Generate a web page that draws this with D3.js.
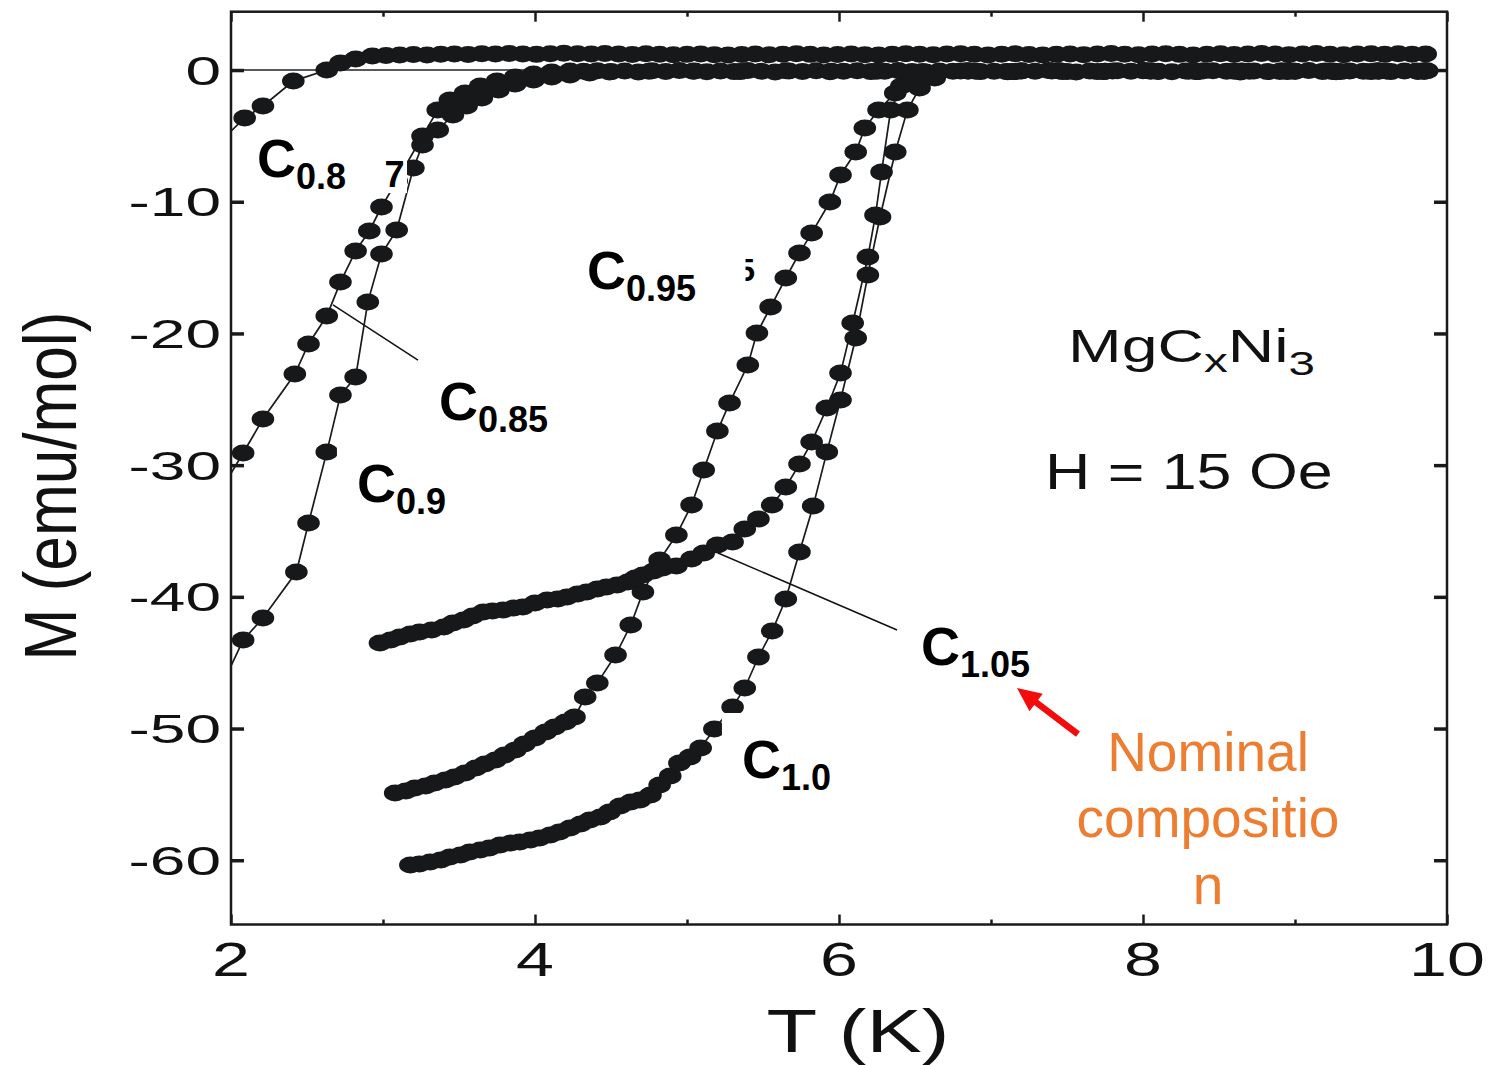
<!DOCTYPE html>
<html><head><meta charset="utf-8">
<script src="https://cdn.jsdelivr.net/npm/d3@7"></script>
<style>body{margin:0;background:#fff}svg{display:block}</style>
</head><body>
<svg id="chart" width="1488" height="1065"></svg>
<script>
// ---------------- DATA (T in K, M in emu/mol) ----------------
const T_C080 = [1.95,2.09,2.21,2.41,2.63,2.72,2.82,2.93,
 3.02,3.11,3.20,3.29,3.38,3.47,3.56,3.65,3.74,3.83,
 3.92,4.01,4.10,4.19,4.28,4.37,4.46,4.55,4.64,4.73,
 4.82,4.91,5.00,5.09,5.18,5.27,5.36,5.45,5.54,5.63,
 5.72,5.81,5.90,5.99,6.08,6.17,6.26,6.35,6.44,6.53,
 6.62,6.71,6.80,6.89,6.98,7.07,7.16,7.25,7.34,7.43,
 7.52,7.61,7.70,7.79,7.88,7.97,8.06,8.15,8.24,8.33,
 8.42,8.51,8.60,8.69,8.78,8.87,8.96,9.05,9.14,9.23,
 9.32,9.41,9.50,9.59,9.68,9.77,9.86];
const M_C080 = [-5.2,-3.64,-2.73,-0.84,0.0,0.53,0.84,1.06,
 1.10,1.14,1.18,1.15,1.20,1.22,1.18,1.24,1.21,1.25,
 1.22,1.19,1.24,1.27,1.23,1.21,1.26,1.22,1.18,1.23,
 1.20,1.16,1.19,1.22,1.17,1.14,1.18,1.21,1.16,1.20,
 1.23,1.19,1.15,1.18,1.22,1.17,1.14,1.19,1.23,1.20,
 1.16,1.21,1.24,1.19,1.15,1.20,1.23,1.18,1.14,1.19,
 1.22,1.17,1.21,1.25,1.20,1.16,1.21,1.24,1.19,1.15,
 1.20,1.23,1.18,1.22,1.26,1.21,1.17,1.22,1.25,1.20,
 1.16,1.21,1.24,1.19,1.23,1.20,1.22];

const T_C085 = [1.97,2.08,2.21,2.42,2.51,2.63,2.72,2.82,2.91,2.99,
 3.09,3.26,3.36,3.44,3.54,3.64,3.75,3.87,3.99,4.11,4.23,
 4.32,4.41,4.50,4.59,4.68,4.77,4.86,4.95,5.04,5.13,
 5.22,5.31,5.40,5.49,5.58,5.67,5.76,5.85,5.94,6.03,
 6.12,6.21,6.30,6.39,6.48,6.57,6.66,6.75,6.84,6.93,
 7.02,7.11,7.20,7.29,7.38,7.47,7.56,7.65,7.74,7.83,
 7.92,8.01,8.10,8.19,8.28,8.37,8.46,8.55,8.64,8.73,
 8.82,8.91,9.00,9.09,9.18,9.27,9.36,9.45,9.54,9.63,
 9.72,9.81,9.87];
const M_C085 = [-31.2,-29.08,-26.50,-23.08,-20.80,-18.68,-16.10,-13.74,-12.22,-10.40,
 -8.43,-5.01,-3.04,-2.28,-1.75,-1.21,-0.84,-0.53,-0.30,-0.15,-0.08,
 -0.10,-0.05,-0.12,-0.08,-0.14,-0.06,-0.11,-0.03,-0.09,-0.13,
 -0.07,-0.12,-0.04,-0.10,-0.15,-0.08,-0.11,-0.05,-0.13,-0.09,
 -0.06,-0.12,-0.10,-0.04,-0.11,-0.14,-0.07,-0.10,-0.05,-0.12,
 -0.09,-0.13,-0.06,-0.10,-0.04,-0.11,-0.15,-0.08,-0.12,-0.06,
 -0.10,-0.03,-0.09,-0.13,-0.07,-0.11,-0.05,-0.10,-0.14,-0.08,
 -0.12,-0.06,-0.09,-0.04,-0.11,-0.13,-0.07,-0.10,-0.05,-0.12,
 -0.08,-0.11,-0.06];

const T_C090 = [1.97,2.08,2.21,2.43,2.51,2.63,2.72,2.82,2.90,2.99,
 3.09,3.20,3.26,3.36,3.46,3.55,3.65,3.76,3.87,3.99,
 4.11,4.23,4.36,4.49,
 4.75,5.05,5.35,5.65,5.95,6.25,6.55,6.85,7.15,7.45,
 7.75,8.05,8.35,8.65,8.95,9.25,9.55,9.85];
const M_C090 = [-46.0,-43.28,-41.61,-38.12,-34.40,-29.01,-24.68,-23.31,-17.62,-13.97,
 -12.15,-7.44,-5.69,-4.56,-3.42,-2.73,-2.13,-1.52,-1.06,-0.76,
 -0.53,-0.38,-0.23,-0.15,
 -0.10,-0.08,-0.12,-0.06,-0.10,-0.09,-0.11,-0.07,-0.12,-0.08,
 -0.10,-0.06,-0.11,-0.09,-0.07,-0.12,-0.08,-0.10];

const T_C095 = [3.08,3.15,3.21,3.28,3.34,3.41,3.47,3.54,3.61,3.67,
 3.74,3.80,3.87,3.93,4.00,4.07,4.13,4.20,4.26,4.33,
 4.41,4.53,4.63,4.71,4.82,4.93,5.03,5.11,5.20,5.28,
 5.40,5.46,5.55,5.65,5.74,5.82,5.94,6.01,6.11,6.17,
 6.26,6.37,6.47,6.57,
 6.85,7.15,7.45,7.75,8.05,8.35,8.65,8.95,9.25,9.55,9.85];
const M_C095 = [-54.90,-54.75,-54.52,-54.37,-54.14,-53.91,-53.68,-53.38,-52.99,-52.69,
 -52.39,-52.01,-51.63,-51.18,-50.72,-50.27,-49.89,-49.51,-49.13,-47.61,
 -46.55,-44.42,-42.14,-39.64,-37.21,-35.31,-33.03,-30.37,-27.41,-25.28,
 -22.40,-19.97,-18.00,-15.79,-13.90,-12.38,-10.02,-7.97,-6.23,-4.40,
 -3.04,-1.75,-0.91,-0.46,
 -0.08,-0.12,-0.06,-0.10,-0.09,-0.11,-0.07,-0.12,-0.08,-0.10,-0.06];

const T_C100 = [3.18,3.24,3.31,3.38,3.44,3.51,3.57,3.64,3.70,3.77,
 3.84,3.90,3.97,4.03,4.10,4.16,4.23,4.30,4.36,4.43,
 4.49,4.56,4.63,4.69,4.76,4.82,4.89,4.95,5.02,5.09,
 5.18,5.30,5.38,5.47,5.56,5.65,5.74,5.83,5.92,6.01,
 6.11,6.19,6.27,6.37,6.45,6.53,6.63,
 6.9,7.2,7.5,7.8,8.1,8.4,8.7,9.0,9.3,9.6,9.85];
const M_C100 = [-60.36,-60.29,-60.14,-59.98,-59.76,-59.61,-59.38,-59.23,-59.07,-58.85,
 -58.69,-58.62,-58.47,-58.31,-58.09,-57.86,-57.56,-57.25,-56.95,-56.72,
 -56.34,-55.88,-55.58,-55.43,-55.05,-54.29,-53.61,-52.62,-52.16,-51.48,
 -50.04,-48.37,-46.92,-44.57,-42.60,-40.17,-36.60,-33.11,-29.01,-25.06,
 -20.35,-15.57,-11.16,-6.23,-3.04,-1.37,-0.61,
 -0.10,-0.07,-0.12,-0.08,-0.11,-0.06,-0.10,-0.09,-0.12,-0.07,-0.10];

const T_C105 = [2.98,3.05,3.11,3.18,3.24,3.32,3.40,3.46,3.53,3.59,
 3.66,3.72,3.79,3.86,3.92,4.00,4.08,4.15,4.21,4.28,
 4.34,4.41,4.47,4.54,4.61,4.66,4.71,4.78,4.84,4.93,
 5.03,5.11,5.20,5.30,5.38,5.47,5.56,5.65,5.74,5.82,
 5.92,6.01,6.09,6.19,6.24,6.28,6.34,6.41,6.52,
 6.8,7.1,7.4,7.7,8.0,8.3,8.6,8.9,9.2,9.5,9.8];
const M_C105 = [-43.51,-43.28,-43.05,-42.82,-42.67,-42.52,-42.29,-41.99,-41.76,-41.46,
 -41.15,-41.08,-41.00,-40.85,-40.77,-40.47,-40.24,-40.17,-40.02,-39.79,
 -39.64,-39.41,-39.26,-39.10,-38.88,-38.57,-38.34,-38.04,-37.81,-37.66,
 -37.13,-36.67,-36.07,-35.84,-34.85,-34.09,-33.03,-31.66,-29.92,-28.25,
 -25.66,-23.01,-19.21,-14.20,-11.01,-7.74,-3.04,-1.21,-0.46,
 -0.07,-0.11,-0.08,-0.12,-0.06,-0.10,-0.09,-0.11,-0.07,-0.12,-0.08];

const seriesNames = ["C0.8","C0.85","C0.9","C0.95","C1.0","C1.05"];
const seriesSubs  = ["0.8","0.85","0.9","0.95","1.0","1.05"];
const xMajor = [2,4,6,8,10];
const xMinor = [3,5,7,9];
const xTickLabels = ["2","4","6","8","10"];
const yTicks = [0,-10,-20,-30,-40,-50,-60];
const yTickLabels = ["0","-10","-20","-30","-40","-50","-60"];
const noteLines = ["Nominal","compositio","n"];

// ---------------- LAYOUT ----------------
const FONT = "'Liberation Sans', Arial, Helvetica, sans-serif";
const INK = "#17181a";
const svg = d3.select("#chart");
svg.append("rect").attr("width",1488).attr("height",1065).attr("fill","#fff");

const x = d3.scaleLinear().domain([2,10]).range([231,1447]);
const y = d3.scaleLinear().domain([4.43,-64.88]).range([11.7,924.5]);
const [x0,x1] = x.range();
const yTop = y(4.43), yBot = y(-64.88);

svg.append("defs").append("clipPath").attr("id","plotclip").append("rect")
  .attr("x",x0).attr("y",yTop).attr("width",x1-x0).attr("height",yBot-yTop);

const plot = svg.append("g").attr("clip-path","url(#plotclip)");

// zero line
plot.append("line").attr("x1",x0).attr("x2",x1).attr("y1",y(0)).attr("y2",y(0))
  .attr("stroke","#222").attr("stroke-width",1.5);

const series = [
  {T:T_C080,M:M_C080},{T:T_C085,M:M_C085},{T:T_C090,M:M_C090},
  {T:T_C095,M:M_C095},{T:T_C100,M:M_C100},{T:T_C105,M:M_C105}
].map((s,i)=>({name:seriesNames[i], pts:s.T.map((t,j)=>[t,s.M[j]])}));

const line = d3.line().x(d=>x(d[0])).y(d=>y(d[1]));
plot.selectAll("path.series").data(series).join("path")
  .attr("class","series").attr("d",d=>line(d.pts))
  .attr("fill","none").attr("stroke","#1a1a1a").attr("stroke-width",1.7);

plot.selectAll("g.mk").data(series).join("g").attr("class","mk")
  .selectAll("ellipse").data(d=>d.pts.filter(p=>p[0]>=2)).join("ellipse")
  .attr("cx",d=>x(d[0])).attr("cy",d=>y(d[1]))
  .attr("rx",11.3).attr("ry",8.5).attr("fill",INK);

// leader lines (data coords)
const leaders = [[[2.671,-17.84],[3.230,-22.02]],[[5.204,-36.67],[6.382,-42.52]]];
svg.selectAll("line.leader").data(leaders).join("line").attr("class","leader")
  .attr("x1",d=>x(d[0][0])).attr("y1",d=>y(d[0][1]))
  .attr("x2",d=>x(d[1][0])).attr("y2",d=>y(d[1][1]))
  .attr("stroke","#111").attr("stroke-width",1.5);

// white label boxes (cover parts of curves as in original)
const boxes = [[2.993,-6.45,3.158,-9.34],[2.697,-28.09,3.474,-34.32],[5.230,-48.82,6.007,-55.43]];
svg.selectAll("rect.box").data(boxes).join("rect").attr("class","box")
  .attr("x",d=>x(d[0])).attr("y",d=>y(d[1]))
  .attr("width",d=>x(d[2])-x(d[0])).attr("height",d=>y(d[3])-y(d[1]))
  .attr("fill","#fff");

// series labels (anchor in data coords)
const labelPos = [[2.171,-8.12],[3.368,-26.58],[2.829,-32.80],[4.342,-16.63],[5.362,-53.76],[6.539,-45.18]];
labelPos.forEach((p,i)=>{
  const t = svg.append("text").attr("x",x(p[0])).attr("y",y(p[1]))
    .attr("font-family",FONT).attr("font-weight","bold").attr("fill","#000");
  t.append("tspan").attr("font-size",54).text("C");
  t.append("tspan").attr("font-size",36).attr("dy",12).text(seriesSubs[i]);
});
// fragments of hidden labels
svg.append("text").attr("x",x(3.010)).attr("y",y(-8.88)).attr("font-family",FONT)
  .attr("font-weight","bold").attr("font-size",36).attr("fill","#000").text("7");
const frag = svg.append("g");
frag.append("text").attr("x",x(5.33)).attr("y",y(-16.02)).attr("font-family",FONT)
  .attr("font-weight","bold").attr("font-size",32).attr("fill","#000").text("5");
frag.append("rect").attr("x",x(5.20)).attr("y",y(-13.5)).attr("width",x(5.385)-x(5.20))
  .attr("height",y(-16.5)-y(-13.5)).attr("fill","#fff");

// ---------------- AXES ----------------
function styleAxis(g, w){
  g.select(".domain").remove();
  g.selectAll(".tick line").attr("stroke","#1a1a1a").attr("stroke-width",w);
  g.selectAll(".tick text").remove();
}
svg.append("g").attr("transform",`translate(0,${yBot})`)
  .call(d3.axisBottom(x).tickValues(xMajor).tickSize(-10).tickSizeOuter(0)).call(g=>styleAxis(g,2.5));
svg.append("g").attr("transform",`translate(0,${yBot})`)
  .call(d3.axisBottom(x).tickValues(xMinor).tickSize(-5).tickSizeOuter(0)).call(g=>styleAxis(g,2.5));
svg.append("g").attr("transform",`translate(0,${yTop})`)
  .call(d3.axisTop(x).tickValues(xMajor).tickSize(-10).tickSizeOuter(0)).call(g=>styleAxis(g,2.5));
svg.append("g").attr("transform",`translate(0,${yTop})`)
  .call(d3.axisTop(x).tickValues(xMinor).tickSize(-5).tickSizeOuter(0)).call(g=>styleAxis(g,2.5));
svg.append("g").attr("transform",`translate(${x0},0)`)
  .call(d3.axisLeft(y).tickValues(yTicks).tickSize(-13).tickSizeOuter(0)).call(g=>styleAxis(g,3.5));
svg.append("g").attr("transform",`translate(${x1},0)`)
  .call(d3.axisRight(y).tickValues(yTicks).tickSize(-13).tickSizeOuter(0)).call(g=>styleAxis(g,3.5));

svg.append("rect").attr("x",x0).attr("y",yTop).attr("width",x1-x0).attr("height",yBot-yTop)
  .attr("fill","none").attr("stroke","#1a1a1a").attr("stroke-width",2.5);

// tick labels
svg.append("g").selectAll("text").data(xMajor).join("text")
  .attr("transform",(d)=>`translate(${x(d)},976) scale(1.42,1)`)
  .attr("text-anchor","middle").attr("font-family",FONT).attr("font-size",48).attr("fill","#111")
  .text((d,i)=>xTickLabels[i]);
svg.append("g").selectAll("text").data(yTicks).join("text")
  .attr("transform",(d)=>`translate(221,${y(d)+14.5}) scale(1.6,1)`)
  .attr("text-anchor","end").attr("font-family",FONT).attr("font-size",40).attr("fill","#111")
  .text((d,i)=>yTickLabels[i]);

// axis titles
svg.append("text").attr("transform","translate(76,486) rotate(-90) scale(0.84,1)")
  .attr("text-anchor","middle").attr("font-family",FONT).attr("font-size",74).attr("fill","#111")
  .text("M (emu/mol)");
svg.append("text").attr("transform","translate(858,1052) scale(1.36,1)")
  .attr("text-anchor","middle").attr("font-family",FONT).attr("font-size",61).attr("fill","#111")
  .text("T (K)");

// compound and field
const cmp = svg.append("text").attr("transform","translate(1068,362) scale(1.4,1)")
  .attr("font-family",FONT).attr("font-size",46).attr("fill","#111");
cmp.append("tspan").text("MgC");
cmp.append("tspan").attr("font-size",34).attr("dy",10).text("x");
cmp.append("tspan").attr("dy",-10).text("Ni");
cmp.append("tspan").attr("font-size",34).attr("dy",13).text("3");
svg.append("text").attr("transform","translate(1045,489) scale(1.28,1)")
  .attr("font-family",FONT).attr("font-size",49).attr("fill","#111").text("H = 15 Oe");

// red arrow + orange note
const arrow = {from:[7.572,-50.42], to:[7.171,-46.92]};
const ax1=x(arrow.from[0]), ay1=y(arrow.from[1]), ax2=x(arrow.to[0]), ay2=y(arrow.to[1]);
const L=Math.hypot(ax2-ax1,ay2-ay1), ux=(ax2-ax1)/L, uy=(ay2-ay1)/L;
const hl=24, hw=11;
const bx=ax2-ux*hl, by=ay2-uy*hl;
svg.append("line").attr("x1",ax1).attr("y1",ay1).attr("x2",bx+ux*2).attr("y2",by+uy*2)
  .attr("stroke","#f40b0b").attr("stroke-width",6.5);
svg.append("path").attr("d",`M${ax2},${ay2}L${bx-uy*hw},${by+ux*hw}L${bx+uy*hw},${by-ux*hw}Z`)
  .attr("fill","#f40b0b");

const noteBase = [771,837,904];
svg.append("g").selectAll("text").data(noteLines).join("text")
  .attr("x",1208).attr("y",(d,i)=>noteBase[i]).attr("text-anchor","middle")
  .attr("font-family",FONT).attr("font-size",55).attr("fill","#ED7D31").text(d=>d);
</script>
</body></html>
